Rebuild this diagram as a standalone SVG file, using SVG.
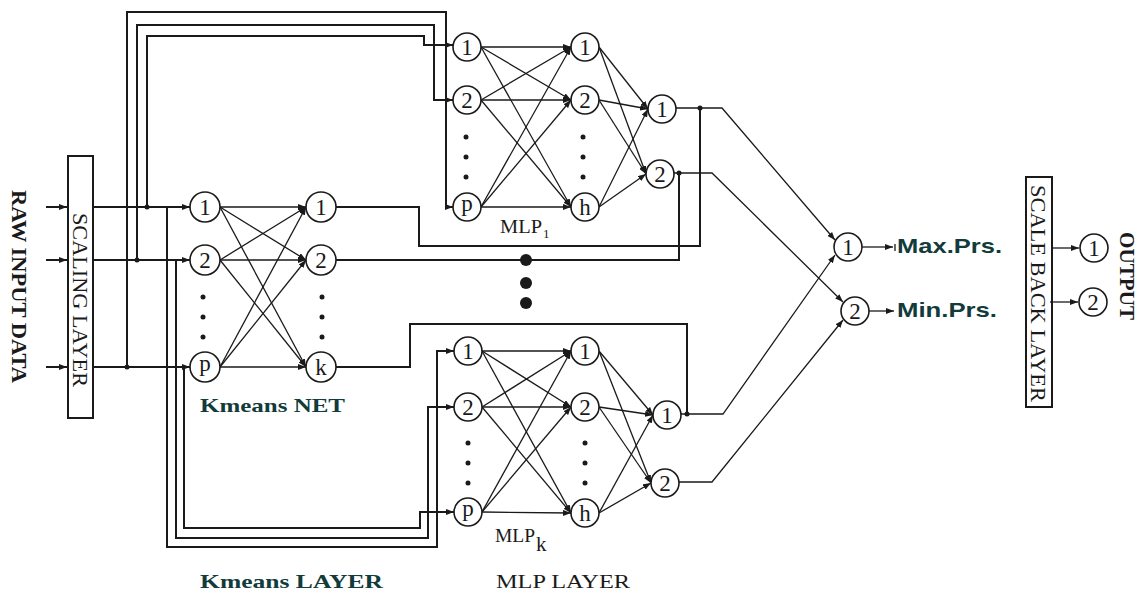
<svg xmlns="http://www.w3.org/2000/svg" width="1139" height="595" viewBox="0 0 1139 595">
<style>
.ln{fill:none;stroke:#1a1a1a;stroke-width:2}
.ed{fill:none;stroke:#1a1a1a;stroke-width:1.3}
.nd circle{fill:#fff;stroke:#1a1a1a;stroke-width:1.6}
.nd text{font-family:"Liberation Serif",serif;font-size:23px;text-anchor:middle;fill:#1a1a1a}
.box{fill:#fff;stroke:#1a1a1a;stroke-width:2}
.dot{fill:#1a1a1a}
.tl{font-family:"Liberation Serif",serif;fill:#1a1a1a}
.tb{font-family:"Liberation Serif",serif;font-weight:bold;fill:#123b3b}
.ts{font-family:"Liberation Sans",Arial,sans-serif;font-weight:bold;fill:#123b3b}
</style>
<defs>
<marker id="ar" markerWidth="8" markerHeight="6" refX="8" refY="3" orient="auto" markerUnits="userSpaceOnUse"><path d="M0,0 L8,3 L0,6 z" fill="#1a1a1a"/></marker>
</defs>

<rect width="1139" height="595" fill="#fff"/>

<!-- texts -->
<text class="tl" font-weight="bold" font-size="20" textLength="193" lengthAdjust="spacingAndGlyphs" transform="translate(12,190) rotate(90)">RAW INPUT DATA</text>
<text class="tb" font-size="19" x="200" y="412" textLength="145" lengthAdjust="spacingAndGlyphs">Kmeans NET</text>
<text class="tb" font-size="19" x="200" y="588" textLength="183" lengthAdjust="spacingAndGlyphs">Kmeans LAYER</text>
<text class="tl" font-size="18" x="496" y="588" textLength="134" lengthAdjust="spacingAndGlyphs">MLP LAYER</text>
<text class="tl" font-size="18" x="500" y="233"><tspan textLength="42" lengthAdjust="spacingAndGlyphs">MLP</tspan><tspan x="543" y="238" font-size="13">1</tspan></text>
<text class="tl" font-size="18" x="495" y="542"><tspan textLength="40" lengthAdjust="spacingAndGlyphs">MLP</tspan><tspan x="536" y="551" font-size="21">k</tspan></text>
<text class="ts" font-size="21" x="897" y="253" textLength="105" lengthAdjust="spacingAndGlyphs">Max.Prs.</text>
<text class="ts" font-size="21" x="897" y="317" textLength="100" lengthAdjust="spacingAndGlyphs">Min.Prs.</text>
<text class="tl" font-weight="bold" font-size="21" textLength="88" lengthAdjust="spacingAndGlyphs" transform="translate(1120,232) rotate(90)">OUTPUT</text>

<!-- layers (boxes) -->
<g id="scaling-layer">
<rect class="box" x="68" y="156" width="25" height="262"/>
<text class="tl" font-size="21" textLength="174" lengthAdjust="spacingAndGlyphs" transform="translate(73,213) rotate(90)">SCALING LAYER</text>
</g>
<g id="scale-back-layer">
<rect class="box" x="1026" y="177" width="26" height="230"/>
<text class="tl" font-size="21" textLength="217" lengthAdjust="spacingAndGlyphs" transform="translate(1031,185) rotate(90)">SCALE BACK LAYER</text>
</g>

<!-- connectors -->
<g id="connectors">
<!-- raw inputs -->
<path class="ln" d="M46,207 H67" marker-end="url(#ar)"/>
<path class="ln" d="M46,260 H67" marker-end="url(#ar)"/>
<path class="ln" d="M46,367 H67" marker-end="url(#ar)"/>
<!-- scaling to kmeans -->
<path class="ln" d="M93,207 H190" marker-end="url(#ar)"/>
<path class="ln" d="M93,260 H190" marker-end="url(#ar)"/>
<path class="ln" d="M93,367 H190" marker-end="url(#ar)"/>
<!-- loops to MLP1 -->
<path class="ln" d="M147,207 V36 H424 V45 H453" marker-end="url(#ar)"/>
<path class="ln" d="M137,260 V25 H434 V100 H453" marker-end="url(#ar)"/>
<path class="ln" d="M127,367 V12 H446 V207 H453" marker-end="url(#ar)"/>
<!-- loops to MLPk -->
<path class="ln" d="M167,207 V547 H437 V351 H454" marker-end="url(#ar)"/>
<path class="ln" d="M176,260 V538 H428 V407 H454" marker-end="url(#ar)"/>
<path class="ln" d="M184,367 V528 H420 V512 H454" marker-end="url(#ar)"/>
<!-- kmeans outputs -->
<path class="ln" d="M336,207 H419 V246 H700 V108"/>
<path class="ln" d="M336,260 H679 V173"/>
<path class="ln" d="M336,367 H410 V324 H687 V414"/>
<!-- MLP outputs -->
<path class="ed" d="M676,108 H722 L835,240" marker-end="url(#ar)"/>
<path class="ed" d="M674,173 H712 L843,302" marker-end="url(#ar)"/>
<path class="ed" d="M681,414 H723 L835,255" marker-end="url(#ar)"/>
<path class="ed" d="M679,482 H712 L843,320" marker-end="url(#ar)"/>
<!-- final -->
<path class="ed" d="M862,247 H893" marker-end="url(#ar)"/>
<path class="ed" d="M895,244 V251"/>
<path class="ed" d="M869,311 H894" marker-end="url(#ar)"/>
<path class="ed" d="M1052,248 H1079" marker-end="url(#ar)"/>
<path class="ed" d="M1050,302 H1078" marker-end="url(#ar)"/>

<!-- kmeans net edges -->
<g class="ed">
<path d="M220,207 L306,207" marker-end="url(#ar)"/>
<path d="M220,207 L306,260" marker-end="url(#ar)"/>
<path d="M220,207 L306,367" marker-end="url(#ar)"/>
<path d="M220,260 L306,207" marker-end="url(#ar)"/>
<path d="M220,260 L306,260" marker-end="url(#ar)"/>
<path d="M220,260 L306,367" marker-end="url(#ar)"/>
<path d="M220,367 L306,207" marker-end="url(#ar)"/>
<path d="M220,367 L306,260" marker-end="url(#ar)"/>
<path d="M220,367 L306,367" marker-end="url(#ar)"/>
</g>
<!-- MLP1 edges -->
<g class="ed">
<path d="M481,47 L571,47" marker-end="url(#ar)"/>
<path d="M481,47 L571,100" marker-end="url(#ar)"/>
<path d="M481,47 L571,207" marker-end="url(#ar)"/>
<path d="M481,100 L571,47" marker-end="url(#ar)"/>
<path d="M481,100 L571,100" marker-end="url(#ar)"/>
<path d="M481,100 L571,207" marker-end="url(#ar)"/>
<path d="M481,207 L571,47" marker-end="url(#ar)"/>
<path d="M481,207 L571,100" marker-end="url(#ar)"/>
<path d="M481,207 L571,207" marker-end="url(#ar)"/>
<path d="M599,47 L648,109" marker-end="url(#ar)"/>
<path d="M599,47 L646,174" marker-end="url(#ar)"/>
<path d="M599,100 L648,109" marker-end="url(#ar)"/>
<path d="M599,100 L646,174" marker-end="url(#ar)"/>
<path d="M599,207 L648,109" marker-end="url(#ar)"/>
<path d="M599,207 L646,174" marker-end="url(#ar)"/>
</g>
<!-- MLPk edges -->
<g class="ed">
<path d="M482,351 L571,351" marker-end="url(#ar)"/>
<path d="M482,351 L571,407" marker-end="url(#ar)"/>
<path d="M482,351 L571,513" marker-end="url(#ar)"/>
<path d="M482,407 L571,351" marker-end="url(#ar)"/>
<path d="M482,407 L571,407" marker-end="url(#ar)"/>
<path d="M482,407 L571,513" marker-end="url(#ar)"/>
<path d="M482,512 L571,351" marker-end="url(#ar)"/>
<path d="M482,512 L571,407" marker-end="url(#ar)"/>
<path d="M482,512 L571,513" marker-end="url(#ar)"/>
<path d="M599,351 L653,415" marker-end="url(#ar)"/>
<path d="M599,351 L651,483" marker-end="url(#ar)"/>
<path d="M599,407 L653,415" marker-end="url(#ar)"/>
<path d="M599,407 L651,483" marker-end="url(#ar)"/>
<path d="M599,513 L653,415" marker-end="url(#ar)"/>
<path d="M599,513 L651,483" marker-end="url(#ar)"/>
</g>

<!-- junction dots -->
<circle class="dot" cx="147" cy="207" r="2.5"/>
<circle class="dot" cx="137" cy="260" r="2.5"/>
<circle class="dot" cx="127" cy="367" r="2.5"/>
<circle class="dot" cx="700" cy="108" r="2.5"/>
<circle class="dot" cx="679" cy="173" r="2.5"/>
<circle class="dot" cx="687" cy="414" r="2.5"/>
</g>

<!-- ellipsis dots -->
<g id="ellipses" class="dot">
<circle cx="526" cy="260" r="6"/><circle cx="526" cy="283" r="6"/><circle cx="526" cy="303" r="6"/>
<circle cx="203" cy="297" r="2.5"/><circle cx="203" cy="317" r="2.5"/><circle cx="203" cy="337" r="2.5"/>
<circle cx="322" cy="297" r="2.5"/><circle cx="322" cy="317" r="2.5"/><circle cx="322" cy="337" r="2.5"/>
<circle cx="466" cy="137" r="2.5"/><circle cx="466" cy="157" r="2.5"/><circle cx="466" cy="177" r="2.5"/>
<circle cx="583" cy="137" r="2.5"/><circle cx="583" cy="157" r="2.5"/><circle cx="583" cy="177" r="2.5"/>
<circle cx="468" cy="443" r="2.5"/><circle cx="468" cy="463" r="2.5"/><circle cx="468" cy="483" r="2.5"/>
<circle cx="585" cy="443" r="2.5"/><circle cx="585" cy="463" r="2.5"/><circle cx="585" cy="483" r="2.5"/>
</g>

<!-- nodes: kmeans -->
<g id="km-in-1" class="nd"><circle cx="205" cy="207" r="15"/><text x="205" y="215">1</text></g>
<g id="km-in-2" class="nd"><circle cx="205" cy="260" r="15"/><text x="205" y="268">2</text></g>
<g id="km-in-p" class="nd"><circle cx="205" cy="367" r="15"/><text x="205" y="371">p</text></g>
<g id="km-out-1" class="nd"><circle cx="321" cy="207" r="15"/><text x="321" y="215">1</text></g>
<g id="km-out-2" class="nd"><circle cx="321" cy="260" r="15"/><text x="321" y="268">2</text></g>
<g id="km-out-k" class="nd"><circle cx="321" cy="367" r="15"/><text x="321" y="375">k</text></g>
<!-- MLP1 -->
<g id="mlp1-in-1" class="nd"><circle cx="467" cy="47" r="14"/><text x="467" y="55">1</text></g>
<g id="mlp1-in-2" class="nd"><circle cx="467" cy="100" r="14"/><text x="467" y="108">2</text></g>
<g id="mlp1-in-p" class="nd"><circle cx="467" cy="207" r="14"/><text x="467" y="211">p</text></g>
<g id="mlp1-h-1" class="nd"><circle cx="585" cy="47" r="14"/><text x="585" y="55">1</text></g>
<g id="mlp1-h-2" class="nd"><circle cx="585" cy="100" r="14"/><text x="585" y="108">2</text></g>
<g id="mlp1-h-h" class="nd"><circle cx="585" cy="207" r="14"/><text x="585" y="215">h</text></g>
<g id="mlp1-o-1" class="nd"><circle cx="662" cy="109" r="14"/><text x="662" y="117">1</text></g>
<g id="mlp1-o-2" class="nd"><circle cx="660" cy="174" r="14"/><text x="660" y="182">2</text></g>
<!-- MLPk -->
<g id="mlpk-in-1" class="nd"><circle cx="468" cy="351" r="14"/><text x="468" y="359">1</text></g>
<g id="mlpk-in-2" class="nd"><circle cx="468" cy="407" r="14"/><text x="468" y="415">2</text></g>
<g id="mlpk-in-p" class="nd"><circle cx="468" cy="512" r="14"/><text x="468" y="516">p</text></g>
<g id="mlpk-h-1" class="nd"><circle cx="585" cy="351" r="14"/><text x="585" y="359">1</text></g>
<g id="mlpk-h-2" class="nd"><circle cx="585" cy="407" r="14"/><text x="585" y="415">2</text></g>
<g id="mlpk-h-h" class="nd"><circle cx="585" cy="513" r="14"/><text x="585" y="521">h</text></g>
<g id="mlpk-o-1" class="nd"><circle cx="667" cy="415" r="14"/><text x="667" y="423">1</text></g>
<g id="mlpk-o-2" class="nd"><circle cx="665" cy="483" r="14"/><text x="665" y="491">2</text></g>
<!-- final -->
<g id="final-1" class="nd"><circle cx="848" cy="247" r="14"/><text x="848" y="255">1</text></g>
<g id="final-2" class="nd"><circle cx="855" cy="311" r="14"/><text x="855" y="319">2</text></g>
<g id="output-1" class="nd"><circle cx="1094" cy="248" r="14"/><text x="1094" y="256">1</text></g>
<g id="output-2" class="nd"><circle cx="1093" cy="302" r="14"/><text x="1093" y="310">2</text></g>
</svg>
